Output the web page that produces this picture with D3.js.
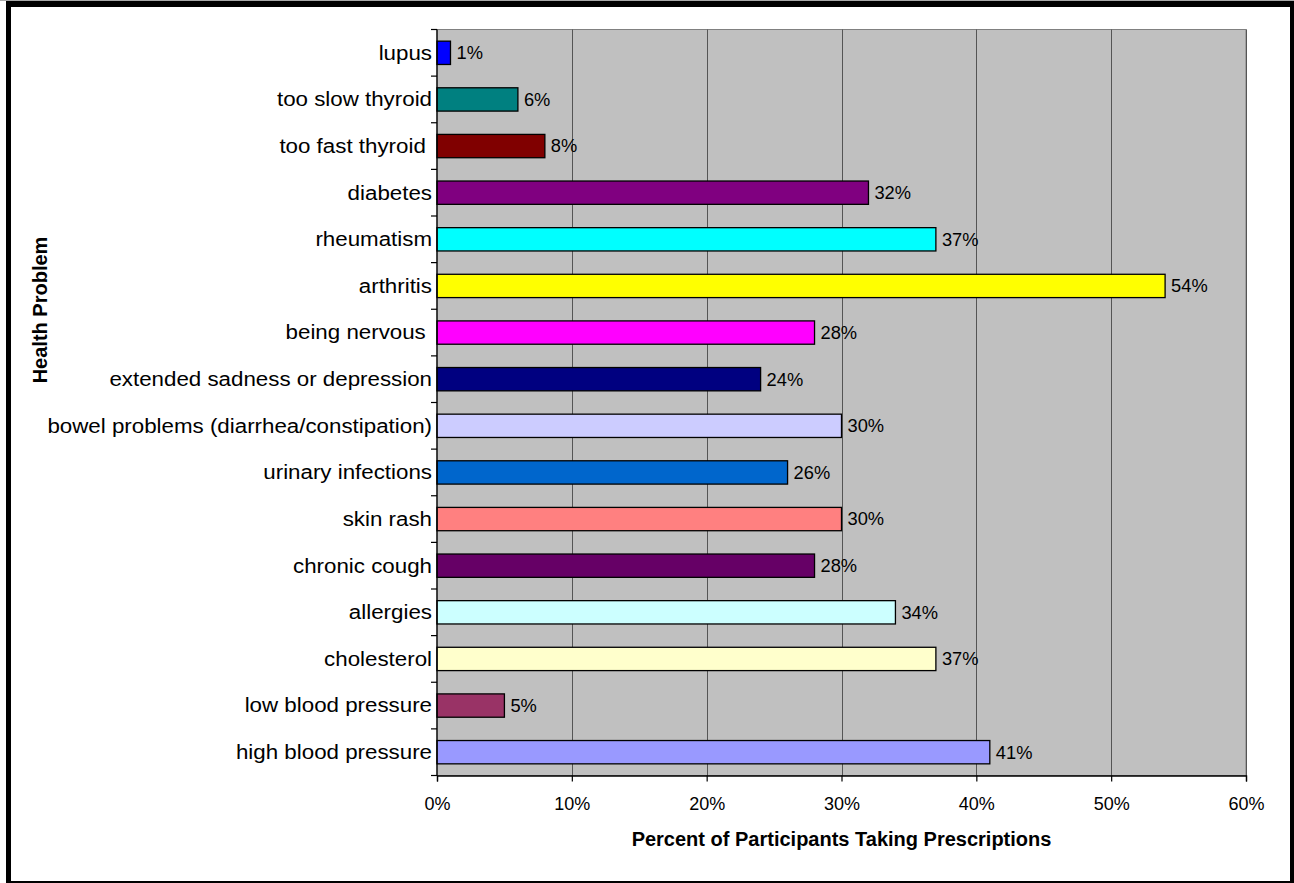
<!DOCTYPE html>
<html>
<head>
<meta charset="utf-8">
<script src="https://cdn.jsdelivr.net/npm/d3@7/dist/d3.min.js"></script>
<style>
  html, body { margin: 0; padding: 0; background: #ffffff; }
  svg { display: block; font-family: "Liberation Sans", Arial, sans-serif; }
</style>
</head>
<body>
<svg id="chart" width="1294" height="883"></svg>
<script>
// Health problems, listed top to bottom
const categories = [
  "lupus",
  "too slow thyroid",
  "too fast thyroid ",
  "diabetes",
  "rheumatism",
  "arthritis",
  "being nervous ",
  "extended sadness or depression",
  "bowel problems (diarrhea/constipation)",
  "urinary infections",
  "skin rash",
  "chronic cough",
  "allergies",
  "cholesterol",
  "low blood pressure",
  "high blood pressure"
];

// Share of participants taking prescriptions (%)
const values = [1, 6, 8, 32, 37, 54, 28, 24, 30, 26, 30, 28, 34, 37, 5, 41];

const barColors = [
  "#0000FF", "#008080", "#800000", "#800080", "#00FFFF", "#FFFF00",
  "#FF00FF", "#000080", "#CCCCFF", "#0066CC", "#FF8080", "#660066",
  "#CCFFFF", "#FFFFCC", "#993366", "#9999FF"
];

const xTicks = [0, 10, 20, 30, 40, 50, 60];

const xTitle = "Percent of Participants Taking Prescriptions";
const yTitle = "Health Problem";

const svg = d3.select("#chart");
const W = 1294, H = 883;

// outer frame
svg.append("rect").attr("x", 0).attr("y", 0).attr("width", W).attr("height", 1).attr("fill", "#a8a8a8");
svg.append("rect").attr("x", 6).attr("y", 1).attr("width", W - 6).attr("height", H - 1).attr("fill", "#000");
svg.append("rect").attr("x", 11).attr("y", 7).attr("width", 1290 - 11).attr("height", 881 - 7).attr("fill", "#fff");

const plot = { left: 437, right: 1246, top: 29.5, bottom: 775.5 };

const x = d3.scaleLinear().domain([0, 60]).range([plot.left, plot.right]);
const y = d3.scaleBand().domain(categories).range([plot.top, plot.bottom]).paddingInner(0.5).paddingOuter(0.25);
const yTickScale = d3.scaleLinear().domain([0, categories.length]).range([plot.top, plot.bottom]);

// plot background
svg.append("rect")
  .attr("x", plot.left).attr("y", plot.top)
  .attr("width", plot.right - plot.left).attr("height", plot.bottom - plot.top)
  .attr("fill", "#C0C0C0")
  .attr("stroke", "#808080").attr("stroke-width", 1);

// vertical gridlines
svg.append("g").selectAll("line")
  .data(xTicks.slice(1))
  .join("line")
  .attr("x1", d => Math.round(x(d)) + 0.5).attr("x2", d => Math.round(x(d)) + 0.5)
  .attr("y1", plot.top).attr("y2", plot.bottom)
  .attr("stroke", "#555").attr("stroke-width", 1);

// bars
svg.append("g").selectAll("rect")
  .data(values)
  .join("rect")
  .attr("x", x(0))
  .attr("y", (d, i) => y(categories[i]))
  .attr("width", d => x(d) - x(0))
  .attr("height", y.bandwidth())
  .attr("fill", (d, i) => barColors[i])
  .attr("stroke", "#000").attr("stroke-width", 1.3);

// value labels
svg.append("g").selectAll("text")
  .data(values)
  .join("text")
  .attr("x", d => x(d) + 6)
  .attr("y", (d, i) => y(categories[i]) + y.bandwidth() / 2)
  .attr("dy", "0.35em")
  .attr("font-size", 18.3)
  .attr("fill", "#000")
  .text(d => d + "%");

// x axis
const xAxis = d3.axisBottom(x)
  .tickValues(xTicks)
  .tickFormat(d => d + "%")
  .tickSize(6)
  .tickPadding(16);
const gx = svg.append("g").attr("transform", `translate(0,${plot.bottom})`).call(xAxis);
gx.select(".domain").attr("stroke", "#000").attr("stroke-width", 1.3);
gx.selectAll(".tick line").attr("stroke", "#000").attr("stroke-width", 1.2);
gx.selectAll(".tick text").attr("font-size", 18).attr("fill", "#000")
  .attr("font-family", "'Liberation Sans', Arial, sans-serif");

// y axis: ticks sit between categories
const gy = svg.append("g").attr("transform", `translate(${plot.left},0)`);
gy.append("line")
  .attr("x1", 0).attr("x2", 0).attr("y1", plot.top).attr("y2", plot.bottom)
  .attr("stroke", "#000").attr("stroke-width", 1.3);
gy.selectAll("line.tk")
  .data(d3.range(categories.length + 1))
  .join("line")
  .attr("class", "tk")
  .attr("x1", -6).attr("x2", 0)
  .attr("y1", d => yTickScale(d)).attr("y2", d => yTickScale(d))
  .attr("stroke", "#000").attr("stroke-width", 1.2);
gy.selectAll("text")
  .data(categories)
  .join("text")
  .attr("transform", d => `translate(-5,${y(d) + y.bandwidth() / 2}) scale(1.145,1)`)
  .attr("dy", "0.35em")
  .attr("text-anchor", "end")
  .attr("font-size", 19.5)
  .attr("fill", "#000")
  .style("white-space", "pre")
  .text(d => d);

// axis titles
svg.append("text")
  .attr("x", (plot.left + plot.right) / 2)
  .attr("y", 846)
  .attr("text-anchor", "middle")
  .attr("font-size", 20)
  .attr("font-weight", "bold")
  .attr("fill", "#000")
  .text(xTitle);

svg.append("text")
  .attr("transform", "translate(47,310) rotate(-90)")
  .attr("text-anchor", "middle")
  .attr("font-size", 20)
  .attr("font-weight", "bold")
  .attr("fill", "#000")
  .text(yTitle);
</script>
</body>
</html>
